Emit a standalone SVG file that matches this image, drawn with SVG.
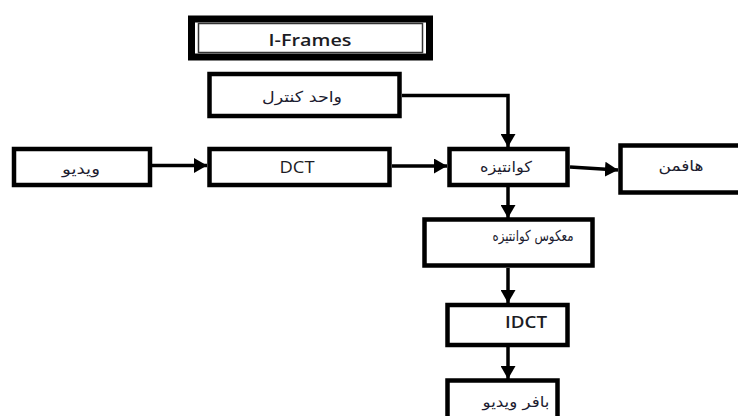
<svg xmlns="http://www.w3.org/2000/svg" width="738" height="416" viewBox="0 0 738 416">
  <style>
    .box { fill: #fff; stroke: #000; stroke-width: 4.5; }
    .wire { fill: none; stroke: #000; stroke-width: 3.5; marker-end: url(#head); }
    .lat { font-family: "Open Sans", "Liberation Sans", sans-serif; font-size: 16px; fill: #1c1c24; text-anchor: middle; }
    .strong { font-weight: 600; }
    .fa { font-family: "DejaVu Sans", "Noto Sans", sans-serif; font-size: 15px; fill: #1c1c30; text-anchor: middle; }
  </style>
  <defs>
    <marker id="head" markerUnits="userSpaceOnUse" markerWidth="14" markerHeight="15" refX="13" refY="7.5" orient="auto">
      <path d="M0,0 L13,7.5 L0,15 z" fill="#000"/>
    </marker>
  </defs>
  <rect width="738" height="416" fill="#fff"/>

  <!-- title frame -->
  <g id="title">
    <rect x="191.5" y="19" width="238" height="38" fill="#fff" stroke="#000" stroke-width="7"/>
    <rect x="198.5" y="23.5" width="224" height="29" fill="none" stroke="#333" stroke-width="1.5"/>
    <text class="lat strong" x="310" y="46" textLength="83" lengthAdjust="spacingAndGlyphs">I-Frames</text>
  </g>

  <g id="connectors">
    <path class="wire" d="M402,95.5 H508 V147"/>
    <path class="wire" d="M152,165.5 H207"/>
    <path class="wire" d="M392,166 H447"/>
    <path class="wire" d="M570,167 L618,170"/>
    <path class="wire" d="M508,187 V218"/>
    <path class="wire" d="M508,268 V303"/>
    <path class="wire" d="M508,347 V379"/>
  </g>

  <g id="control">
    <rect class="box" x="209.5" y="74" width="190" height="42"/>
    <text class="fa" x="302" y="102" textLength="80" lengthAdjust="spacingAndGlyphs">واحد کنترل</text>
  </g>

  <g id="video">
    <rect class="box" x="14" y="149" width="136" height="36"/>
    <text class="fa" x="81" y="174" textLength="38" lengthAdjust="spacingAndGlyphs">ویدیو</text>
  </g>

  <g id="dct">
    <rect class="box" x="209.5" y="149" width="180" height="36"/>
    <text class="lat" x="297" y="173" textLength="35" lengthAdjust="spacingAndGlyphs">DCT</text>
  </g>

  <g id="quantize">
    <rect class="box" x="449.5" y="149" width="118" height="36"/>
    <text class="fa" x="506" y="172" textLength="52" lengthAdjust="spacingAndGlyphs">کوانتیزه</text>
  </g>

  <g id="huffman">
    <rect class="box" x="620.5" y="145.5" width="125" height="47"/>
    <text class="fa" x="681" y="171" textLength="45" lengthAdjust="spacingAndGlyphs">هافمن</text>
  </g>

  <g id="inverse-quantize">
    <rect class="box" x="424.5" y="219.5" width="168" height="46"/>
    <text class="fa" x="533" y="241" font-size="12" textLength="81" lengthAdjust="spacingAndGlyphs">معکوس کوانتیزه</text>
  </g>

  <g id="idct">
    <rect class="box" x="447.5" y="305" width="120" height="40"/>
    <text class="lat strong" x="526" y="328" textLength="42" lengthAdjust="spacingAndGlyphs">IDCT</text>
  </g>

  <g id="buffer">
    <rect class="box" x="447.5" y="380.5" width="110" height="50"/>
    <text class="fa" x="516" y="407" textLength="67" lengthAdjust="spacingAndGlyphs">بافر ویدیو</text>
  </g>
</svg>
